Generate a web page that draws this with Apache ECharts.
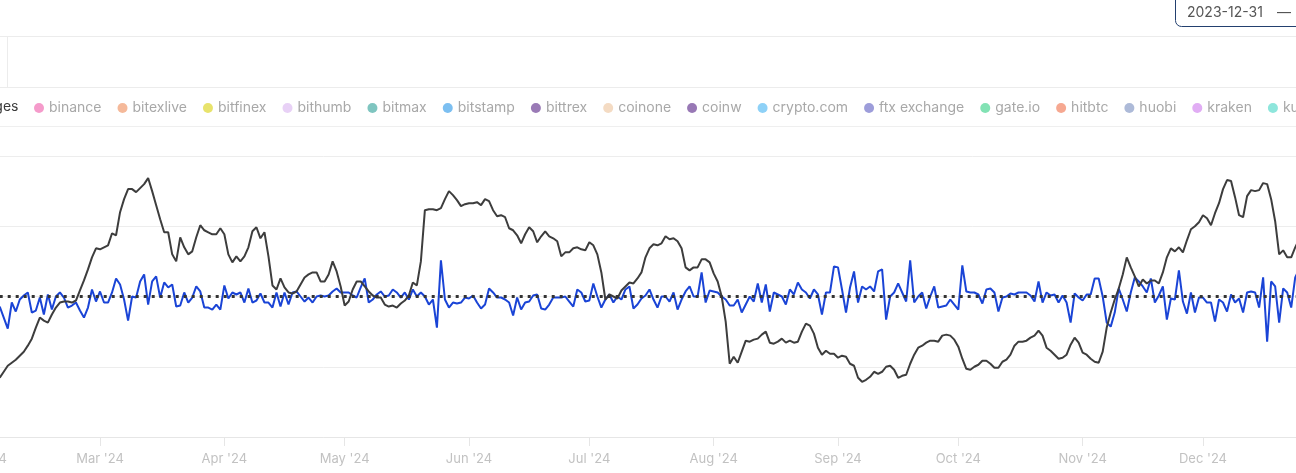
<!DOCTYPE html>
<html><head><meta charset="utf-8">
<script src="https://cdn.jsdelivr.net/npm/echarts@6/dist/echarts.min.js"></script>
<style>html,body{margin:0;padding:0;background:#fff;}#c{width:1296px;height:473px;}</style>
</head><body><div id="c"></div>
<script>
// ---- data ----
const startDate = [2024, 1, 5]; // first visible day (year, monthIndex, day)
const axisStart = [2024, 1, 1];
const axisEnd = [2025, 0, 1];
const monthStarts = [[2024,1,1],[2024,2,1],[2024,3,1],[2024,4,1],[2024,5,1],[2024,6,1],[2024,7,1],[2024,8,1],[2024,9,1],[2024,10,1],[2024,11,1]];
const monthLabels = ["Feb '24","Mar '24","Apr '24","May '24","Jun '24","Jul '24","Aug '24","Sep '24","Oct '24","Nov '24","Dec '24"];
const exchanges = ["binance","bitexlive","bitfinex","bithumb","bitmax","bitstamp","bittrex","coinone","coinw","crypto.com","ftx exchange","gate.io","hitbtc","huobi","kraken","kucoin"];
const exchangeColors = ["#f59bcb","#f5b99a","#e8e36c","#e8d1f6","#7fc5c0","#7cbff1","#9a7ab6","#f4dbc3","#9878b5","#8ed1f7","#9d9dda","#82e2b4","#f6a891","#adbad8","#e1adf4","#8ee6dc"];
// black series (daily)
const trendValues = [-81,-75,-69,-66,-63,-59,-55,-49,-42,-31,
-21,-24,-26,-18,-11,-6,-5,-5,-6,-4,
6,16,27,39,48,47,49,51,63,61,
84,97,107,107,104,108,112,118,105,91,
77,64,64,42,35,59,49,42,45,59,
71,66,64,62,62,68,62,42,34,40,
35,40,49,65,69,58,64,40,11,7,
18,9,4,3,5,12,19,22,24,24,
15,15,22,35,25,10,-9,-5,7,15,
15,10,5,1,-1,-1,-8,-10,-9,-11,
-7,-4,1,14,11,35,86,87,87,86,
88,97,105,101,96,90,92,93,93,94,
91,97,95,86,80,81,79,68,66,61,
53,62,69,65,54,60,65,60,58,55,
40,44,44,48,49,47,46,54,51,42,
24,-3,2,0,-2,6,10,14,13,18,
24,39,48,52,51,53,60,57,58,55,
48,29,26,29,29,37,37,34,23,15,
0,-25,-67,-60,-66,-55,-44,-45,-43,-42,
-38,-35,-46,-47,-45,-42,-46,-44,-46,-45,
-35,-27,-29,-37,-51,-58,-54,-57,-57,-61,
-59,-60,-67,-69,-81,-85,-83,-80,-75,-77,
-75,-70,-69,-73,-81,-79,-78,-67,-58,-51,
-49,-46,-44,-44,-45,-39,-38,-39,-43,-50,
-62,-72,-73,-70,-68,-64,-64,-67,-71,-71,
-65,-63,-58,-49,-45,-45,-44,-41,-39,-34,
-39,-51,-54,-58,-62,-61,-58,-48,-41,-46,
-56,-58,-62,-65,-66,-55,-31,-16,-3,8,
22,39,29,20,10,17,13,16,16,13,
24,39,48,45,49,44,56,67,70,74,
81,78,71,83,93,107,116,115,99,81,
79,100,106,105,106,113,112,97,75,42,
46,39,39,49,57];
// blue series (daily)
const spreadValues = [-10,-21,-32,-6,-15,-3,1,4,-16,-14,
-1,-18,2,-13,0,4,-1,-11,-9,-6,
-14,-21,-11,7,-5,5,-6,-6,4,18,
12,-3,-24,0,-1,15,22,-8,15,20,
-1,14,9,12,-10,-9,4,-6,-1,10,
5,-11,-11,-13,-8,-13,11,-2,4,2,
4,-6,8,-6,-4,3,-6,-6,-11,4,
-10,4,-8,4,5,0,-5,-1,-6,0,
1,0,1,5,8,4,4,4,1,-1,
9,18,-6,-3,2,5,0,1,7,4,
-1,4,-3,7,0,4,0,-8,-3,-31,
36,-3,-11,-6,-7,-6,-1,-2,1,-6,
-12,-8,8,4,-1,-1,-3,-6,-19,-1,
-13,-6,-5,1,2,-12,-13,-8,-1,-1,
-1,0,-5,-10,7,4,-5,-4,13,0,
-11,-3,2,-6,0,-3,7,10,-12,-8,
-2,1,7,-3,-11,0,0,-5,4,-13,
-3,5,10,0,0,24,-6,6,5,4,
0,-3,-9,-9,-3,-16,-8,0,-5,13,
-6,12,-15,4,2,0,-8,7,2,14,
7,4,-2,7,2,-18,4,4,30,29,
7,-16,9,25,-6,10,7,10,5,25,
27,-23,0,4,13,4,-5,36,-6,0,
4,-12,0,10,-11,-10,-9,-3,-8,-13,
31,5,4,4,2,-7,7,8,4,-15,
-1,0,3,2,4,4,4,1,-5,15,
-6,4,1,2,-6,1,-6,-26,3,-1,
-4,2,2,18,18,0,-26,-30,-16,8,
-3,-15,4,19,15,10,4,18,-6,1,
10,-23,-2,-3,26,-5,-17,4,-16,-1,
-1,-6,-6,-25,-3,-6,-15,2,-6,-2,
-16,4,5,4,-11,19,-45,15,10,-26,
8,4,-11,19,27];

// ---- build ----
const ts = a => new Date(a[0], a[1], a[2]).getTime();
const dayTs = i => new Date(startDate[0], startDate[1], startDate[2] + i).getTime();
const monthTs = monthStarts.map(ts);
const trendData = trendValues.map((v, i) => [dayTs(i), v]);
const spreadData = spreadValues.map((v, i) => [dayTs(i), v]);
const FONT = 'Inter, "Noto Sans", sans-serif';

const chart = echarts.init(document.getElementById('c'), null, {renderer: 'canvas'});
const legendSeries = exchanges.map((n, k) => ({
  name: n, type: 'line', data: [], showSymbol: false,
  itemStyle: {color: exchangeColors[k]}, lineStyle: {color: exchangeColors[k]}
}));
chart.setOption({
  animation: false,
  backgroundColor: '#ffffff',
  grid: {left: -16.3, right: -31.3, top: 156, bottom: 36, containLabel: false, outerBoundsMode: 'none'},
  legend: {
    data: exchanges, left: 34, top: 101, padding: 0, width: 4000, itemGap: 16,
    icon: 'circle', itemWidth: 10, itemHeight: 10, selectedMode: false,
    textStyle: {color: '#a8a8a8', fontSize: 14, fontFamily: FONT}
  },
  xAxis: {
    type: 'value', min: ts(axisStart), max: ts(axisEnd), scale: true,
    axisLine: {show: true, onZero: false, lineStyle: {color: '#e6e6e6', width: 1}},
    axisTick: {show: true, customValues: monthTs, length: 9, lineStyle: {color: '#e6e6e6'}},
    axisLabel: {
      customValues: monthTs, margin: 16, color: '#c2c2c2', fontSize: 13, fontFamily: FONT,
      formatter: v => { const k = monthTs.indexOf(v); return k >= 0 ? monthLabels[k] : ''; }
    },
    splitLine: {show: false}
  },
  yAxis: {
    type: 'value', min: -140, max: 140, interval: 70,
    axisLabel: {show: false}, axisLine: {show: false}, axisTick: {show: false},
    splitLine: {lineStyle: {color: '#ededed', width: 1}}
  },
  series: [
    {name: 'spread', type: 'line', data: spreadData, showSymbol: false, z: 3,
     lineStyle: {color: '#1a44d6', width: 2}, itemStyle: {color: '#1a44d6'}},
    {name: 'trend', type: 'line', data: trendData, showSymbol: false, z: 4,
     lineStyle: {color: '#3d3d3d', width: 2}, itemStyle: {color: '#3d3d3d'},
     markLine: {silent: true, symbol: 'none', label: {show: false}, z: 10,
       lineStyle: {color: '#333333', type: [3, 5], width: 3},
       data: [{yAxis: 0}]}}
  ].concat(legendSeries),
  graphic: [
    {type: 'line', silent: true, shape: {x1: 0, y1: 36.5, x2: 1296, y2: 36.5}, style: {stroke: '#ececec', lineWidth: 1}},
    {type: 'line', silent: true, shape: {x1: 0, y1: 87.5, x2: 1296, y2: 87.5}, style: {stroke: '#ececec', lineWidth: 1}},
    {type: 'line', silent: true, shape: {x1: 7.5, y1: 36.5, x2: 7.5, y2: 87.5}, style: {stroke: '#ececec', lineWidth: 1}},
    {type: 'line', silent: true, shape: {x1: 0, y1: 126.5, x2: 1296, y2: 126.5}, style: {stroke: '#efefef', lineWidth: 1}},
    {type: 'rect', silent: true, shape: {x: 1175.5, y: -10, width: 200, height: 36.5, r: 6},
     style: {fill: '#ffffff', stroke: '#23406f', lineWidth: 1}},
    {type: 'text', silent: true, style: {text: '2023-12-31', x: 1187, y: 13, verticalAlign: 'middle', font: '14px ' + FONT, fill: '#555555'}},
    {type: 'text', silent: true, style: {text: '—', x: 1277, y: 13, verticalAlign: 'middle', font: '14px ' + FONT, fill: '#555555'}},
    {type: 'text', silent: true, style: {text: 'Exchanges', x: 18.5, y: 107, align: 'right', verticalAlign: 'middle', font: '14px ' + FONT, fill: '#3a3a3a'}}
  ]
});
</script>
</body></html>
